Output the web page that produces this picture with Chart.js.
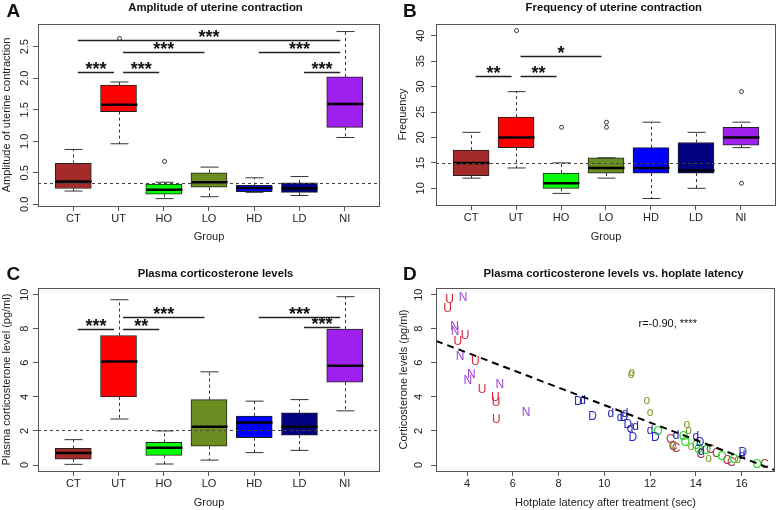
<!DOCTYPE html>
<html>
<head>
<meta charset="utf-8">
<script src="https://cdn.jsdelivr.net/npm/chart.js@4.4.1/dist/chart.umd.min.js"></script>
<style>
  body { margin: 0; background: #fff; }
  #wrap { position: relative; width: 778px; height: 510px; }
  canvas { position: absolute; }
</style>
</head>
<body>
<div id="wrap">
  <canvas id="cA" width="389" height="255" style="left:0;top:0"></canvas>
  <canvas id="cB" width="389" height="255" style="left:389px;top:0"></canvas>
  <canvas id="cC" width="389" height="255" style="left:0;top:255px"></canvas>
  <canvas id="cD" width="389" height="255" style="left:389px;top:255px"></canvas>
</div>
<script>
const groups = ['CT', 'UT', 'HO', 'LO', 'HD', 'LD', 'NI'];
const groupColors = ['#A52A2A', '#FF0000', '#00FF00', '#6B8E23', '#0000FF', '#000080', '#A020F0'];

// A - amplitude
const ampLow  = [0.21, 0.96, 0.09, 0.12, 0.19, 0.14, 1.06];
const ampQ1   = [0.25, 1.47, 0.16, 0.27, 0.20, 0.19, 1.22];
const ampMed  = [0.36, 1.58, 0.23, 0.35, 0.26, 0.25, 1.59];
const ampQ3   = [0.65, 1.89, 0.32, 0.50, 0.30, 0.34, 2.02];
const ampHigh = [0.87, 1.94, 0.35, 0.59, 0.42, 0.44, 2.74];
const ampOut  = [[], [2.63], [0.68], [], [], [], []];
const ampRef = 0.345;
const ampTicks = [0, 0.5, 1, 1.5, 2, 2.5];
const ampSig = [[1, 7, 2.61, '***'], [2, 4, 2.41, '***'], [5, 7, 2.41, '***'],
                [1, 2, 2.10, '***'], [2, 3, 2.10, '***'], [6, 7, 2.10, '***']];

// B - frequency
const freqLow  = [12, 14, 9, 12, 8, 10, 18];
const freqQ1   = [12.5, 18, 10, 13, 13, 13, 18.5];
const freqMed  = [15, 20, 11, 14, 14, 13.5, 20];
const freqQ3   = [17.5, 24, 13, 16, 18, 19, 22];
const freqHigh = [21, 29, 15, 16, 23, 21, 23];
const freqOut  = [[], [41], [22], [22, 23], [], [], [29, 11]];
const freqRef = 15;
const freqTicks = [10, 15, 20, 25, 30, 35, 40];
const freqSig = [[1, 2, 32, '**'], [2, 3, 32, '**'], [2, 4, 36, '*']];

// C - corticosterone
const cortLow  = [0.04, 2.7, 0.06, 0.29, 0.73, 0.86, 3.18];
const cortQ1   = [0.35, 4.0, 0.57, 1.1, 1.61, 1.76, 4.86];
const cortMed  = [0.7, 6.08, 1.02, 2.25, 2.49, 2.25, 5.82];
const cortQ3   = [0.98, 7.6, 1.33, 3.84, 2.88, 3.06, 7.98];
const cortHigh = [1.49, 9.7, 2.0, 5.47, 3.75, 3.84, 9.88];
const cortOut  = [[], [], [], [], [], [], []];
const cortRef = 2.06;
const cortTicks = [0, 2, 4, 6, 8, 10];
const cortSig = [[1, 2, 8.0, '***'], [2, 3, 8.0, '**'], [2, 4, 8.7, '***'],
                 [5, 7, 8.7, '***'], [6, 7, 8.1, '***']];

// D - corticosterone vs hotplate latency
const letters = ['C', 'U', 'O', 'o', 'D', 'd', 'N'];
const letterColors = ['#B03A48', '#E0203A', '#22DD22', '#7A9A2A', '#2A2ACC', '#1F1FA0', '#A040D0'];
const ctLat  = [12.88, 13.0, 13.14, 14.22, 14.63, 14.9, 15.36, 15.55, 17.0];
const ctCort = [1.47, 1.08, 0.98, 0.63, 0.88, 0.69, 0.24, 0.14, 0.0];
const utLat  = [3.23, 3.15, 3.91, 3.59, 4.36, 4.66, 5.23, 5.27, 5.28];
const utCort = [9.7, 9.18, 7.59, 7.22, 6.04, 4.41, 3.98, 3.67, 2.65];
const hoLat  = [12.34, 13.46, 13.54, 14.02, 14.12, 14.46, 15.14, 15.68, 16.68];
const hoCort = [1.96, 1.67, 1.33, 1.12, 0.88, 0.82, 0.49, 0.29, 0.0];
const loLat  = [11.17, 11.2, 11.86, 12.0, 13.0, 13.61, 13.68, 13.79, 14.56, 15.83];
const loCort = [5.30, 5.42, 3.78, 3.08, 1.12, 2.39, 2.02, 1.08, 0.35, 0.29];
const hdLat  = [8.86, 9.49, 10.85, 11.03, 11.25, 12.23, 14.19, 16.05];
const hdCort = [3.69, 2.84, 2.75, 2.39, 1.63, 1.63, 1.33, 0.72];
const ldLat  = [9.05, 10.28, 10.69, 10.91, 11.13, 11.36, 12.0, 13.14, 14.0, 14.24, 16.02];
const ldCort = [3.78, 3.0, 2.75, 3.04, 2.12, 2.25, 2.0, 1.72, 1.67, 0.78, 0.55];
const niLat  = [3.82, 3.45, 3.47, 3.69, 4.18, 4.03, 5.43, 6.58];
const niCort = [9.84, 8.14, 7.8, 6.33, 5.29, 4.94, 4.71, 3.1];
const latGroups = [[ctLat, ctCort], [utLat, utCort], [hoLat, hoCort], [loLat, loCort],
                   [hdLat, hdCort], [ldLat, ldCort], [niLat, niCort]];
const fitX = [2.64, 17.46];
const fitY = [7.29, -0.30];
const latTicks = [4, 6, 8, 10, 12, 14, 16];
const corrText = 'r=-0.90, ****';

Chart.defaults.font.family = '"Liberation Sans", Arial, sans-serif';
Chart.defaults.color = '#222';

const FRAME = '#555';

// title + panel letter + frame
function decoPlugin(p) {
  return {
    id: 'deco',
    afterDraw(chart) {
      const ctx = chart.ctx, a = chart.chartArea;
      ctx.save();
      ctx.strokeStyle = FRAME;
      ctx.lineWidth = 1;
      ctx.strokeRect(Math.round(a.left) + 0.5, Math.round(a.top) + 0.5,
                     Math.round(a.right - a.left) - 1, Math.round(a.bottom - a.top));
      ctx.fillStyle = '#111';
      ctx.font = 'bold 11.3px "Liberation Sans", Arial, sans-serif';
      ctx.textAlign = 'center';
      ctx.textBaseline = 'alphabetic';
      ctx.fillText(p.title, p.titleX, p.titleY);
      ctx.font = 'bold 19px "Liberation Sans", Arial, sans-serif';
      ctx.textAlign = 'left';
      ctx.fillText(p.letter, p.letterX, p.letterY);
      ctx.restore();
    }
  };
}

// whiskers, medians, outliers, reference line, significance bars
function boxPlugin(p) {
  return {
    id: 'boxExtras',
    afterDatasetsDraw(chart) {
      const ctx = chart.ctx, xs = chart.scales.x, ys = chart.scales.y, a = chart.chartArea;
      const half = 18, cap = 9;
      ctx.save();
      p.low.forEach((lo, i) => {
        const x = Math.round(xs.getPixelForValue(i + 1)) + 0.5;
        ctx.strokeStyle = '#333';
        ctx.lineWidth = 1;
        ctx.setLineDash([3, 3]);
        ctx.beginPath();
        ctx.moveTo(x, ys.getPixelForValue(p.q3[i]));
        ctx.lineTo(x, ys.getPixelForValue(p.high[i]));
        ctx.moveTo(x, ys.getPixelForValue(p.q1[i]));
        ctx.lineTo(x, ys.getPixelForValue(lo));
        ctx.stroke();
        ctx.setLineDash([]);
        ctx.beginPath();
        ctx.moveTo(x - cap, ys.getPixelForValue(p.high[i]));
        ctx.lineTo(x + cap, ys.getPixelForValue(p.high[i]));
        ctx.moveTo(x - cap, ys.getPixelForValue(lo));
        ctx.lineTo(x + cap, ys.getPixelForValue(lo));
        ctx.stroke();
        ctx.strokeStyle = '#000';
        ctx.lineWidth = 2.5;
        ctx.beginPath();
        ctx.moveTo(x - half, ys.getPixelForValue(p.med[i]));
        ctx.lineTo(x + half, ys.getPixelForValue(p.med[i]));
        ctx.stroke();
        ctx.strokeStyle = '#333';
        ctx.lineWidth = 1;
        p.out[i].forEach(v => {
          ctx.beginPath();
          ctx.arc(x, ys.getPixelForValue(v), 2, 0, Math.PI * 2);
          ctx.stroke();
        });
      });
      // reference line
      const ry = Math.round(ys.getPixelForValue(p.ref)) + 0.5;
      ctx.strokeStyle = '#444';
      ctx.lineWidth = 1;
      ctx.setLineDash([3, 3]);
      ctx.beginPath();
      ctx.moveTo(a.left, ry);
      ctx.lineTo(a.right, ry);
      ctx.stroke();
      ctx.setLineDash([]);
      // significance
      ctx.strokeStyle = '#222';
      ctx.lineWidth = 1.3;
      ctx.fillStyle = '#111';
      ctx.font = 'bold 18px "Liberation Sans", Arial, sans-serif';
      ctx.textAlign = 'center';
      ctx.textBaseline = 'alphabetic';
      p.sig.forEach(([i, j, v, s]) => {
        const y = Math.round(ys.getPixelForValue(v)) + 0.5;
        ctx.beginPath();
        ctx.moveTo(xs.getPixelForValue(i + 0.1), y);
        ctx.lineTo(xs.getPixelForValue(j - 0.1), y);
        ctx.stroke();
        ctx.fillText(s, xs.getPixelForValue((i + j) / 2), y + 2.5);
      });
      ctx.restore();
    }
  };
}

function boxChart(id, p) {
  return new Chart(document.getElementById(id), {
    type: 'bar',
    data: {
      datasets: [{
        data: p.q1.map((q, i) => ({ x: i + 1, y: [q, p.q3[i]] })),
        backgroundColor: groupColors,
        borderColor: '#222',
        borderWidth: 1,
        borderSkipped: false,
        barThickness: 36
      }]
    },
    options: {
      responsive: false,
      animation: false,
      layout: { padding: { top: p.top, right: p.right, left: 0, bottom: 0 } },
      plugins: { legend: { display: false }, tooltip: { enabled: false } },
      scales: {
        x: {
          type: 'linear', min: 0.22, max: 7.78, offset: false,
          border: { display: false },
          grid: { drawOnChartArea: false, tickLength: 5, color: FRAME, offset: false },
          afterBuildTicks: s => { s.ticks = groups.map((g, i) => ({ value: i + 1 })); },
          ticks: { callback: v => groups[v - 1], autoSkip: false, maxRotation: 0, padding: 1, font: { size: 11 } },
          title: { display: true, text: 'Group', font: { size: 11 }, padding: { top: 0, bottom: p.xTitlePad } },
          afterFit: s => { s.height = p.xHeight; }
        },
        y: {
          min: p.min, max: p.max,
          border: { display: false },
          grid: { drawOnChartArea: false, tickLength: 5, color: FRAME },
          afterBuildTicks: s => { s.ticks = p.ticks.map(v => ({ value: v })); },
          ticks: { minRotation: 90, maxRotation: 90, crossAlign: 'center', padding: p.yTickPad,
                   callback: p.fmt, font: { size: 11 } },
          title: { display: true, text: p.yTitle, font: { size: 11 }, padding: { top: p.yTitlePad, bottom: 0 } },
          afterFit: s => { s.width = p.yWidth; }
        }
      }
    },
    plugins: [boxPlugin(p), decoPlugin(p)]
  });
}

boxChart('cA', {
  low: ampLow, q1: ampQ1, med: ampMed, q3: ampQ3, high: ampHigh, out: ampOut,
  ref: ampRef, ticks: ampTicks, sig: ampSig, fmt: v => v.toFixed(1),
  min: -0.027, max: 2.86, top: 24, right: 9, yWidth: 38, xHeight: 49,
  yTickPad: 0, yTitlePad: 0, xTitlePad: 11,
  yTitle: 'Amplitude of uterine contraction',
  title: 'Amplitude of uterine contraction', titleX: 215.5, titleY: 10.5,
  letter: 'A', letterX: 6.5, letterY: 16.5
});

boxChart('cB', {
  low: freqLow, q1: freqQ1, med: freqMed, q3: freqQ3, high: freqHigh, out: freqOut,
  ref: freqRef, ticks: freqTicks, sig: freqSig, fmt: v => String(v),
  min: 6.72, max: 42.3, top: 24, right: 2, yWidth: 47, xHeight: 50,
  yTickPad: 4, yTitlePad: 7.4, xTitlePad: 11,
  yTitle: 'Frequency',
  title: 'Frequency of uterine contraction', titleX: 224.8, titleY: 10.5,
  letter: 'B', letterX: 14, letterY: 16.5
});

boxChart('cC', {
  low: cortLow, q1: cortQ1, med: cortMed, q3: cortQ3, high: cortHigh, out: cortOut,
  ref: cortRef, ticks: cortTicks, sig: cortSig, fmt: v => String(v),
  min: -0.35, max: 10.39, top: 33, right: 9, yWidth: 38, xHeight: 39,
  yTickPad: 2, yTitlePad: 0, xTitlePad: 0,
  yTitle: 'Plasma corticosterone level (pg/ml)',
  title: 'Plasma corticosterone levels', titleX: 215.5, titleY: 21.5,
  letter: 'C', letterX: 6.5, letterY: 25
});

// D: letter scatter
const letterPlugin = {
  id: 'letters',
  beforeDatasetsDraw(chart) {
    const ctx = chart.ctx;
    ctx.save();
    ctx.font = '12px "Liberation Sans", Arial, sans-serif';
    ctx.textAlign = 'center';
    ctx.textBaseline = 'middle';
    letters.forEach((l, i) => {
      ctx.fillStyle = letterColors[i];
      chart.getDatasetMeta(i).data.forEach(pt => ctx.fillText(l, pt.x, pt.y));
    });
    const xs = chart.scales.x, ys = chart.scales.y;
    ctx.font = '11px "Liberation Sans", Arial, sans-serif';
    ctx.fillStyle = '#111';
    ctx.textBaseline = 'alphabetic';
    ctx.fillText(corrText, xs.getPixelForValue(12.77), ys.getPixelForValue(8.1));
    ctx.restore();
  }
};

new Chart(document.getElementById('cD'), {
  type: 'scatter',
  data: {
    datasets: latGroups.map(([xs, ys], i) => ({
      label: letters[i],
      data: xs.map((x, k) => ({ x: x, y: ys[k] })),
      pointRadius: 0
    })).concat([{
      type: 'line',
      data: fitX.map((x, k) => ({ x: x, y: fitY[k] })),
      borderColor: '#000',
      borderWidth: 2,
      borderDash: [7, 5],
      pointRadius: 0
    }])
  },
  options: {
    responsive: false,
    animation: false,
    layout: { padding: { top: 33, right: 3, left: 0, bottom: 0 } },
    plugins: { legend: { display: false }, tooltip: { enabled: false } },
    scales: {
      x: {
        type: 'linear', min: 2.64, max: 17.46,
        border: { display: false },
        grid: { drawOnChartArea: false, tickLength: 5, color: FRAME },
        afterBuildTicks: s => { s.ticks = latTicks.map(v => ({ value: v })); },
        ticks: { maxRotation: 0, padding: 1, font: { size: 11 } },
        title: { display: true, text: 'Hotplate latency after treatment (sec)', font: { size: 11 }, padding: { top: 0, bottom: 0 } },
        afterFit: s => { s.height = 39; }
      },
      y: {
        min: -0.35, max: 10.39,
        border: { display: false },
        grid: { drawOnChartArea: false, tickLength: 5, color: FRAME },
        afterBuildTicks: s => { s.ticks = cortTicks.map(v => ({ value: v })); },
        ticks: { minRotation: 90, maxRotation: 90, crossAlign: 'center', padding: 5.5, font: { size: 11 } },
        title: { display: true, text: 'Corticosterone levels (pg/ml)', font: { size: 11 }, padding: { top: 8, bottom: 0 } },
        afterFit: s => { s.width = 47; }
      }
    }
  },
  plugins: [letterPlugin, decoPlugin({
    title: 'Plasma corticosterone levels vs. hoplate latency', titleX: 224.5, titleY: 21.5,
    letter: 'D', letterX: 14, letterY: 25
  })]
});
</script>
</body>
</html>
